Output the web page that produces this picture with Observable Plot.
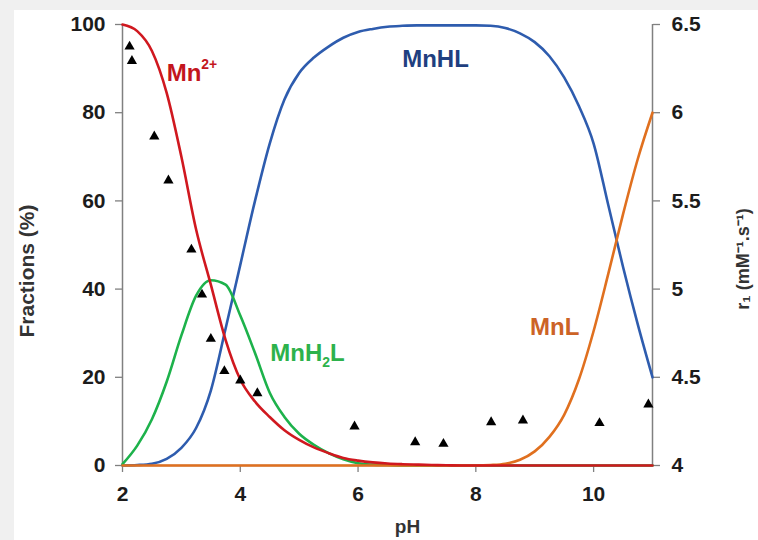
<!DOCTYPE html>
<html><head><meta charset="utf-8">
<script src="https://cdn.jsdelivr.net/npm/d3@7"></script>
<script src="https://cdn.jsdelivr.net/npm/@observablehq/plot@0.6"></script>
<style>
html,body{margin:0;padding:0;background:#f0f0f0;width:758px;height:540px;overflow:hidden}
#chart{position:absolute;left:14px;top:10px;width:744px;height:530px;background:#fff;overflow:hidden}
</style></head><body><div id="chart"></div>
<script>
// pH grid shared by the speciation curves
const pH = [2, 2.25, 2.5, 2.75, 3, 3.25, 3.5, 3.75, 4, 4.25, 4.5, 4.75, 5, 5.25, 5.5, 5.75, 6, 6.25, 6.5, 6.75, 7, 7.25, 7.5, 7.75, 8, 8.25, 8.5, 8.75, 9, 9.25, 9.5, 9.75, 10, 10.25, 10.5, 10.75, 11];
// Fractions (%)
const mn2  = [100, 98.5, 94, 84.5, 70, 53.5, 41, 28.5, 19.5, 14.5, 11, 8, 5.8, 4.1, 2.8, 1.7, 1.1, 0.7, 0.45, 0.3, 0.2, 0.1, 0.05, 0, 0, 0, 0, 0, 0, 0, 0, 0, 0, 0, 0, 0, 0];
const mnh2l = [0.3, 4.5, 10.5, 19, 29.5, 38.5, 42, 41, 34, 25.5, 16.5, 11, 7.2, 4.7, 2.8, 1.4, 0.5, 0.2, 0.1, 0, 0, 0, 0, 0, 0, 0, 0, 0, 0, 0, 0, 0, 0, 0, 0, 0, 0];
const mnhl = [0, 0.1, 0.4, 1.5, 4, 8.5, 17, 31, 45.5, 60, 73, 83, 89, 92.5, 95, 97, 98.3, 99, 99.5, 99.7, 99.8, 99.8, 99.8, 99.8, 99.8, 99.7, 99.2, 98, 96, 92.8, 88, 81.5, 73, 59, 45, 32, 20];
const mnl  = [0, 0, 0, 0, 0, 0, 0, 0, 0, 0, 0, 0, 0, 0, 0, 0, 0, 0, 0, 0, 0, 0, 0, 0, 0, 0.1, 0.4, 1.3, 3.2, 6.5, 11.5, 19.5, 30.5, 43.5, 57, 69.5, 80];
// Relaxivity r1 (mM-1.s-1) measurements
const r1pH = [2.12, 2.16, 2.54, 2.78, 3.17, 3.35, 3.50, 3.73, 4.0, 4.29, 5.94, 6.97, 7.45, 8.26, 8.80, 10.1, 10.93];
const r1   = [6.375, 6.293, 5.865, 5.616, 5.224, 4.969, 4.718, 4.535, 4.482, 4.41, 4.221, 4.132, 4.123, 4.245, 4.255, 4.24, 4.346];
// Axes
const xDomain = [2, 11];
const xTicks = [2, 4, 6, 8, 10];
const yDomain = [0, 100];
const yTicks = [0, 20, 40, 60, 80, 100];
const r1Domain = [4, 6.5];
const r1Ticks = [4, 4.5, 5, 5.5, 6, 6.5];
// Species labels: [main text, script text, script kind, tail]
const labelParts = [["Mn", "2+", "sup", ""], ["MnHL", "", "", ""], ["MnH", "2", "sub", "L"], ["MnL", "", "", ""]];
const labelPH   = [2.75, 6.75, 4.51, 8.92];
const labelFrac = [89, 92, 25.4, 31.3];

const lineColors = {mn2: "#d0181f", mnh2l: "#1db24b", mnhl: "#2e5cae", mnl: "#e0701f"};
const labelColors = ["#c3161d", "#1f3f80", "#2db24c", "#cc6326"];

// map r1 onto the fraction scale (right axis)
const k = (yDomain[1] - yDomain[0]) / (r1Domain[1] - r1Domain[0]);
const toY = v => (v - r1Domain[0]) * k;
const fromY = y => y / k + r1Domain[0];

const font = '"Liberation Sans", Arial, sans-serif';
const axisStyle = {tickSize: 7, stroke: "#808080", strokeWidth: 1.3, fill: "#1c1c1c", fontSize: 21, fontWeight: "bold", label: null};

const curve = (vals, color) => Plot.line(pH, {x: d => d, y: (d, i) => vals[i], stroke: color, strokeWidth: 2.6, curve: "monotone-x"});

const chart = Plot.plot({
  width: 744, height: 530,
  marginLeft: 108, marginRight: 106, marginTop: 14, marginBottom: 75,
  style: {fontFamily: font, background: "#fff", overflow: "visible"},
  x: {domain: xDomain},
  y: {domain: yDomain},
  marks: [
    Plot.ruleX(xDomain, {stroke: "#808080", strokeWidth: 1.5}),
    Plot.ruleY([yDomain[0]], {stroke: "#808080", strokeWidth: 1.5}),
    Plot.axisX({...axisStyle, ticks: xTicks, tickPadding: 14}),
    Plot.axisY({...axisStyle, anchor: "left", ticks: yTicks, tickPadding: 10}),
    Plot.axisY({...axisStyle, anchor: "right", ticks: r1Ticks.map(toY), tickFormat: v => String(+fromY(v).toFixed(1)), tickPadding: 12}),
    curve(mnhl, lineColors.mnhl),
    curve(mnh2l, lineColors.mnh2l),
    curve(mnl, lineColors.mnl),
    curve(mn2, lineColors.mn2),
    Plot.dot(r1pH, {x: d => d, y: (d, i) => toY(r1[i]), symbol: "triangle", fill: "#000", r: 3.8}),
    ...labelParts.map((p, i) => Plot.text([p.join("|")], {x: () => labelPH[i], y: () => labelFrac[i], text: d => d, textAnchor: "start", fill: labelColors[i], fontSize: 24, fontWeight: "bold", className: "species"})),
    Plot.text(["Fractions (%)"], {text: d => d, frameAnchor: "left", textAnchor: "middle", rotate: -90, dx: -95, dy: 26, fontSize: 21, fontWeight: "bold", fill: "#333"}),
    Plot.text(["r₁ (mM⁻¹.s⁻¹)"], {text: d => d, frameAnchor: "right", textAnchor: "middle", rotate: -90, dx: 91, dy: 14, fontSize: 18, fontWeight: "bold", fill: "#333"}),
    Plot.text(["pH"], {text: d => d, frameAnchor: "bottom", dx: 20, dy: 67, fontSize: 19, fontWeight: "bold", fill: "#333"})
  ]
});
// rich text for species labels (super/subscripts)
d3.select(chart).selectAll("g.species text").each(function() {
  const [main, script, kind, tail] = this.textContent.split("|");
  const t = d3.select(this).text("");
  t.append("tspan").text(main);
  if (script) {
    t.append("tspan").text(script).attr("font-size", "0.58em").attr("dy", kind === "sup" ? "-0.85em" : "0.45em");
    if (tail) t.append("tspan").text(tail).attr("dy", "-0.26em");
  }
});
document.getElementById("chart").appendChild(chart);
</script>
</body></html>
